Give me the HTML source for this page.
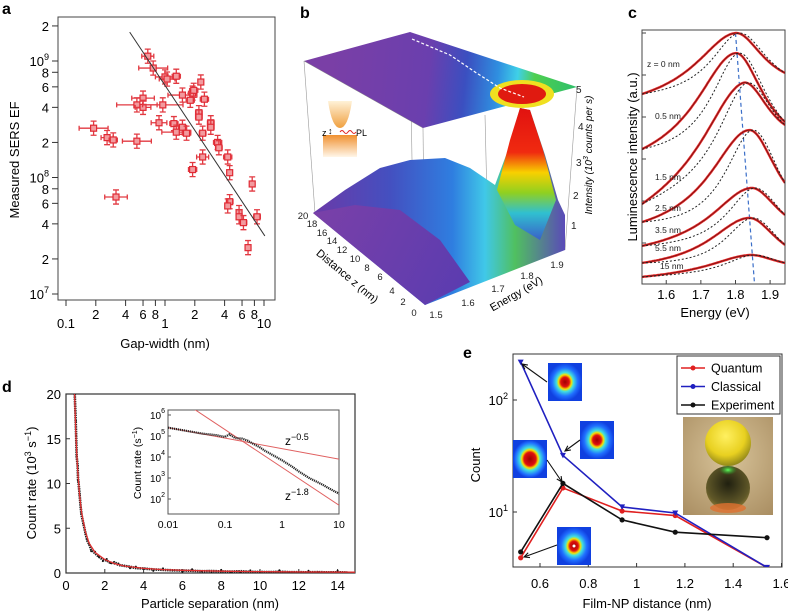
<!DOCTYPE html>
<html><head><meta charset="utf-8">
<style>
html,body{margin:0;padding:0;background:#fff;}
svg{display:block;font-family:"Liberation Sans",sans-serif;}
</style></head>
<body>
<svg id="fig" width="788" height="613" viewBox="0 0 788 613" xmlns="http://www.w3.org/2000/svg">
<defs>
  <linearGradient id="topPlane" gradientUnits="userSpaceOnUse" x1="330" y1="70" x2="575" y2="95">
    <stop offset="0" stop-color="#7a3fa6"/><stop offset="0.4" stop-color="#6a3fae"/>
    <stop offset="0.55" stop-color="#3b4fc0"/><stop offset="0.68" stop-color="#2f8fe0"/>
    <stop offset="0.76" stop-color="#3fd0e8"/><stop offset="0.83" stop-color="#4fcf50"/>
    <stop offset="1" stop-color="#2fbf6a"/>
  </linearGradient>
  <linearGradient id="surf" gradientUnits="userSpaceOnUse" x1="315" y1="0" x2="565" y2="0">
    <stop offset="0" stop-color="#6a3aa8"/><stop offset="0.3" stop-color="#4450c0"/>
    <stop offset="0.55" stop-color="#2f7ee0"/><stop offset="0.68" stop-color="#40c8e8"/>
    <stop offset="0.8" stop-color="#50c060"/><stop offset="1" stop-color="#5a4ab8"/>
  </linearGradient>
  <linearGradient id="peak" gradientUnits="userSpaceOnUse" x1="0" y1="105" x2="0" y2="240">
    <stop offset="0" stop-color="#e01010"/><stop offset="0.35" stop-color="#f02a10"/>
    <stop offset="0.5" stop-color="#f8d000"/><stop offset="0.65" stop-color="#90d020"/>
    <stop offset="0.8" stop-color="#30c0d0"/><stop offset="1" stop-color="#3a60c8"/>
  </linearGradient>
  <linearGradient id="floor" gradientUnits="userSpaceOnUse" x1="315" y1="210" x2="470" y2="290">
    <stop offset="0" stop-color="#7a40a8"/><stop offset="1" stop-color="#5a3cb0"/>
  </linearGradient>
  <linearGradient id="tip" x1="0" y1="0" x2="0" y2="1">
    <stop offset="0" stop-color="#fff2d8"/><stop offset="1" stop-color="#f0a040"/>
  </linearGradient>
  <linearGradient id="film" x1="0" y1="0" x2="0" y2="1">
    <stop offset="0" stop-color="#f09030"/><stop offset="1" stop-color="#fff6e8"/>
  </linearGradient>
  <radialGradient id="heat">
    <stop offset="0" stop-color="#a00000"/><stop offset="0.25" stop-color="#e01010"/>
    <stop offset="0.38" stop-color="#f8e000"/><stop offset="0.5" stop-color="#40e0e0"/>
    <stop offset="0.75" stop-color="#2070ff"/><stop offset="1" stop-color="#1040e0"/>
  </radialGradient>
  <radialGradient id="heatBig">
    <stop offset="0" stop-color="#a00000"/><stop offset="0.35" stop-color="#e01010"/>
    <stop offset="0.48" stop-color="#f8e000"/><stop offset="0.6" stop-color="#40e0e0"/>
    <stop offset="0.85" stop-color="#2070ff"/><stop offset="1" stop-color="#1040e0"/>
  </radialGradient>
  <radialGradient id="photoBg" cx="0.5" cy="0.4" r="0.8">
    <stop offset="0" stop-color="#d8c49a"/><stop offset="1" stop-color="#a88c60"/>
  </radialGradient>
  <radialGradient id="sphere" cx="0.45" cy="0.35" r="0.7">
    <stop offset="0" stop-color="#fff060"/><stop offset="0.6" stop-color="#e8d020"/><stop offset="1" stop-color="#807818"/>
  </radialGradient>
  <radialGradient id="refl" cx="0.5" cy="0.4" r="0.7">
    <stop offset="0" stop-color="#202010"/><stop offset="0.7" stop-color="#605828"/><stop offset="1" stop-color="#a89040"/>
  </radialGradient>
  <radialGradient id="glow"><stop offset="0" stop-color="#60ff60"/><stop offset="1" stop-color="#20a020" stop-opacity="0"/></radialGradient>
  <clipPath id="clipA"><rect x="58" y="17" width="217" height="283"/></clipPath>
  <clipPath id="clipC"><rect x="642" y="30" width="143" height="254"/></clipPath>
  <clipPath id="clipD"><rect x="66" y="394" width="289" height="179"/></clipPath>
  <clipPath id="clipDi"><rect x="168" y="410" width="171" height="104"/></clipPath>
  <clipPath id="clipE"><rect x="513" y="354" width="269" height="213"/></clipPath>
</defs>

<text x="2" y="14" font-size="16" font-weight="bold">a</text>
<text x="300" y="18" font-size="16" font-weight="bold">b</text>
<text x="628" y="18" font-size="16" font-weight="bold">c</text>
<text x="2" y="392" font-size="16" font-weight="bold">d</text>
<text x="463" y="358" font-size="16" font-weight="bold">e</text>

<g id="pb">
  <g stroke="#999" stroke-width="0.6" fill="none">
    <line x1="304" y1="61" x2="315" y2="213"/>
    <line x1="410" y1="32" x2="412" y2="160"/>
    <line x1="423" y1="128" x2="425" y2="305"/>
    <line x1="577" y1="87" x2="565" y2="250"/>
    <line x1="485" y1="115" x2="487" y2="200"/>
  </g>
  <polygon points="313,213 345,190 380,168 410,160 445,158 470,168 495,185 508,150 520,108 530,110 545,155 558,200 565,215 565,250 425,305" fill="url(#surf)"/>
  <polygon points="497,190 510,140 520,108 530,110 543,150 556,200 540,240 515,225" fill="url(#peak)"/>
  <polygon points="313,213 355,205 400,210 440,240 470,282 425,305" fill="url(#floor)"/>
  <polygon points="304,61 410,32 577,87 423,128" fill="url(#topPlane)"/>
  <ellipse cx="522" cy="94" rx="32" ry="14" fill="#f0e020"/>
  <ellipse cx="522" cy="94" rx="24" ry="10" fill="#e01a10"/>
  <path d="M412,39 L450,55 L475,72 L500,88 L524,97" stroke="#fff" stroke-width="1.2" stroke-dasharray="3,2" fill="none"/>
  <line x1="304" y1="61" x2="423" y2="128" stroke="#888" stroke-width="0.5"/>
  <g>
    <path d="M328,101 Q332,128 340,128 Q348,128 352,101 Z" fill="url(#tip)"/>
    <rect x="323" y="135" width="34" height="22" fill="url(#film)"/>
    <text x="322" y="136" font-size="9">z</text>
    <text x="328" y="134" font-size="9">↕</text>
    <path d="M340,132 q2,-3 4,0 t4,0 t4,0 t4,0" stroke="#e02020" fill="none" stroke-width="1"/>
    <text x="356" y="136" font-size="9">PL</text>
  </g>
  <g font-size="10" fill="#222">
    <text x="576" y="93">5</text><text x="578" y="130">4</text><text x="576" y="166">3</text><text x="573" y="199">2</text><text x="571" y="229">1</text>
  </g>
  <text transform="translate(592,155) rotate(-90)" text-anchor="middle" font-size="10" font-style="italic">Intensity (10<tspan dy="-4" font-size="7">3</tspan><tspan dy="4"> counts per s)</tspan></text>
  <g font-size="9.5" fill="#222" text-anchor="middle">
    <text x="303" y="219">20</text><text x="312" y="227">18</text><text x="322" y="236">16</text><text x="332" y="244">14</text><text x="342" y="253">12</text><text x="355" y="262">10</text><text x="367" y="271">8</text><text x="380" y="280">6</text><text x="392" y="294">4</text><text x="403" y="305">2</text><text x="414" y="316">0</text>
  </g>
  <text transform="translate(345,279) rotate(40)" text-anchor="middle" font-size="11">Distance z (nm)</text>
  <g font-size="9.5" fill="#222" text-anchor="middle">
    <text x="436" y="318">1.5</text><text x="468" y="306">1.6</text><text x="498" y="292">1.7</text><text x="527" y="279">1.8</text><text x="557" y="268">1.9</text>
  </g>
  <text transform="translate(518,297) rotate(-30)" text-anchor="middle" font-size="11">Energy (eV)</text>
</g>

<g id="pa"></g>
<g id="pc"></g>
<g id="pd"></g>
<g id="pe"></g>
</svg>

<script>
// ---------- Panel a data ----------
const gapX = [0.67,0.76,1.0,1.05,1.3,2.3,1.5,1.9,1.95,1.8,2.5,0.6,0.52,0.6,0.95,2.2,2.2,2.9,2.9,0.87,1.23,1.5,1.3,1.65,2.4,0.19,0.26,0.3,0.52,3.4,3.5,2.4,4.3,4.5,1.9,7.6,0.32,4.5,4.3,5.6,5.6,6.2,8.5,6.9];
const sersEF = [1.1e9,8.7e8,7.3e8,7e8,7.4e8,6.6e8,5.1e8,5.3e8,5.6e8,4.6e8,4.7e8,4.8e8,4.2e8,4e8,4.2e8,3.6e8,3.3e8,2.95e8,2.7e8,2.95e8,2.9e8,2.7e8,2.45e8,2.4e8,2.4e8,2.65e8,2.2e8,2.1e8,2.05e8,2e8,1.8e8,1.5e8,1.5e8,1.1e8,1.17e8,8.8e7,6.8e7,6.2e7,5.7e7,5e7,4.6e7,4.1e7,4.6e7,2.5e7];
const gapErrFactor = [1.15,1.4,1.25,1.2,1.1,1.05,1.4,1.1,1.1,1.1,1.1,1.3,1.6,1.2,1.6,1.08,1.08,1.08,1.08,1.2,1.1,1.1,1.4,1.1,1.08,1.4,1.15,1.1,1.4,1.1,1.08,1.15,1.1,1.05,1.1,1.05,1.3,1.08,1.05,1.05,1.05,1.08,1.08,1.05];
const efErrFactor = 1.15;
const fitX = [0.44, 10.2];
const fitY = [1.77e9, 3.15e7];
const aYTicks = [1e7,2e7,4e7,6e7,8e7,1e8,2e8,4e8,6e8,8e8,1e9,2e9];
const aYTickLabels = ['10^7','2','4','6','8','10^8','2','4','6','8','10^9','2'];
const aXTicks = [0.1,0.2,0.4,0.6,0.8,1,2,4,6,8,10];
const aXTickLabels = ['0.1','2','4','6','8','1','2','4','6','8','10'];

// ---------- Panel c data ----------
const cLabels = ['z = 0 nm','0.5 nm','1.5 nm','2.5 nm','3.5 nm','5.5 nm','15 nm'];
const cLeft  = [7.48,5.31,3.15,2.44,1.50,0.83,0.28];
const cRight = [8.31,6.38,6.26,3.98,2.72,1.54,0.83];
const cPeak  = [9.88,9.09,7.91,6.06,3.78,2.60,1.14];
const cPeakE = [1.80,1.80,1.82,1.84,1.845,1.84,1.84];
const cXTicks = [1.6,1.7,1.8,1.9];
const cShift = [1.80,1.855];

// ---------- Panel d data ----------
const dSep = [0.45,0.5,0.52,0.55,0.6,0.62,0.65,0.7,0.75,0.8,0.9,1.0,1.1,1.2,1.3,1.5,1.7,1.9,2.1,2.3,2.5,2.7,3.0,3.3,3.6,4.0,4.5,5.0,5.5,6.0,6.5,7,7.5,8,8.5,9,9.5,10,10.5,11,11.5,12,12.5,13,13.5,14,14.5];
const dRate = [20,17,15.5,13,12,10.5,10,8.8,7.5,6.5,5.5,4.5,3.6,3.2,2.6,2.2,1.8,1.5,1.4,1.1,1.2,0.9,0.8,0.7,0.55,0.5,0.4,0.35,0.3,0.28,0.25,0.2,0.22,0.18,0.15,0.2,0.13,0.12,0.1,0.14,0.1,0.09,0.08,0.1,0.07,0.08,0.06];
const dFitSep = [0.42,0.45,0.5,0.55,0.6,0.7,0.8,1,1.2,1.5,2,2.5,3,4,5,6,8,10,12,15];
const dFitRate = [21,19.5,16,13.5,11.5,8.7,6.8,4.6,3.3,2.3,1.5,1.05,0.78,0.52,0.38,0.3,0.2,0.15,0.12,0.09];
const dXTicks = [0,2,4,6,8,10,12,14];
const dYTicks = [0,5,10,15,20];
const inSep = [0.01,0.02,0.04,0.07,0.1,0.12,0.15,0.2,0.25,0.3,0.4,0.5,0.7,1,1.5,2,3,5,7,10];
const inRate = [2.5e5,1.8e5,1.3e5,1.1e5,9e4,1.2e5,8e4,7.5e4,6e4,4.5e4,3e4,2e4,1.2e4,7e3,3.5e3,2e3,1e3,5e2,3e2,1.8e2];
const inExp = [-0.5,-1.8];
const inAmp = [2.5e4, 3.2e3];
const inXTicks = [0.01,0.1,1,10];
const inYTicks = [1e2,1e3,1e4,1e5,1e6];

// ---------- Panel e data ----------
const eDist = [0.52,0.695,0.94,1.16,1.54];
const eQuantum = [3.9,16.4,10.2,9.3,3.2];
const eClassical = [218,32,11.1,9.8,3.2];
const eExperiment = [4.4,18,8.5,6.6,5.9];
const eXTicks = [0.6,0.8,1,1.2,1.4,1.6];
const eXTickLabels = ['0.6','0.8','1','1.2','1.4','1.6'];

const NS='http://www.w3.org/2000/svg';
function el(tag, attrs, parent){const e=document.createElementNS(NS,tag);for(const k in attrs)e.setAttribute(k,attrs[k]);parent.appendChild(e);return e;}
function txt(str, attrs, parent){const e=el('text',attrs,parent);e.textContent=str;return e;}
function powText(base, exp, attrs, parent){
  const t=el('text',attrs,parent);
  const a=document.createElementNS(NS,'tspan');a.textContent=base;t.appendChild(a);
  const b=document.createElementNS(NS,'tspan');b.textContent=exp;b.setAttribute('dy','-6');b.setAttribute('font-size','0.7em');t.appendChild(b);
  return t;
}
const L10=Math.log10;

// ================= Panel a =================
(function(){
  const g=document.getElementById('pa');
  const xa=v=>66+99*(L10(v)+1);
  const ya=v=>61-116.5*(L10(v)-9);
  const box=el('rect',{x:58,y:17,width:217,height:283,fill:'none',stroke:'#444','stroke-width':1},g);
  
  
  aYTicks.forEach((v,i)=>{
    const y=ya(v);
    const tk=el('line',{x1:52,y1:y,x2:58,y2:y,stroke:'#333'},g);
    
    
    const lab=aYTickLabels[i];
    let t;
    if(lab.indexOf('^')>0){const p=lab.split('^');t=powText(p[0],p[1],{x:49,y:y+5,'font-size':13,'text-anchor':'end'},g);}
    else t=txt(lab,{x:49,y:y+5,'font-size':13,'text-anchor':'end'},g);
    
    
  });
  aXTicks.forEach((v,i)=>{
    const x=xa(v);
    const tk=el('line',{x1:x,y1:300,x2:x,y2:306,stroke:'#333'},g);
    
    
    const low=(aXTickLabels[i]==='0.1'||aXTickLabels[i]==='1'||aXTickLabels[i]==='10');
    const t=txt(aXTickLabels[i],{x:x,y:low?328:319,'font-size':13,'text-anchor':'middle'},g);
    
    
  });
  const xt=txt('Gap-width (nm)',{x:165,y:348,'font-size':13,'text-anchor':'middle'},g);
  
  
  const yt=txt('Measured SERS EF',{transform:'translate(19,160) rotate(-90)','font-size':13,'text-anchor':'middle'},g);
  
  
  const pg=el('g',{'clip-path':'url(#clipA)'},g);
  gapX.forEach((xv,i)=>{
    const yv=sersEF[i], f=gapErrFactor[i];
    const x=xa(xv), y=ya(yv);
    const eb=el('path',{d:`M${xa(xv/f)},${y}H${xa(xv*f)}M${xa(xv/f)},${y-2.5}v5M${xa(xv*f)},${y-2.5}v5M${x},${ya(yv*efErrFactor)}V${ya(yv/efErrFactor)}M${x-3},${ya(yv*efErrFactor)}h6M${x-3},${ya(yv/efErrFactor)}h6`,stroke:'#e23a42','stroke-width':1.3,fill:'none'},pg);
    
    
    const m=el('rect',{x:x-3,y:y-3,width:6,height:6,fill:'#f29a9e',stroke:'#e02a34','stroke-width':1.2},pg);
    
    
  });
  const fl=el('line',{x1:xa(fitX[0]),y1:ya(fitY[0]),x2:xa(fitX[1]),y2:ya(fitY[1]),stroke:'#333','stroke-width':1},g);
  
  
})();

// ================= Panel c =================
(function(){
  const g=document.getElementById('pc');
  const xmin=1.53,xmax=1.943;
  const xc=v=>642+(v-xmin)/(xmax-xmin)*143;
  const yc=v=>284-v*25.4;
  const L=(E,E0,gl,gr)=>{const gg=E<E0?gl:gr;return gg*gg/((E-E0)*(E-E0)+gg*gg);};
  function curve(i,E0,gl,gr){
    const yl=cLeft[i],yr=cRight[i],yp=cPeak[i];
    const T=xmax-xmin,t0=E0-xmin;
    const Ll=L(xmin,E0,gl,gr),Lr=L(xmax,E0,gl,gr);
    const A=(yp-yl-t0/T*(yr-yl))/(1-Ll+t0/T*(Ll-Lr));
    const c=yl-A*Ll, s=(yr-yl+A*(Ll-Lr))/T;
    let d='';
    for(let k=0;k<=120;k++){const E=xmin+(xmax-xmin)*k/120;const v=c+s*(E-xmin)+A*L(E,E0,gl,gr);d+=(k?'L':'M')+xc(E).toFixed(1)+','+yc(v).toFixed(1);}
    return d;
  }
  const box=el('rect',{x:642,y:30,width:143,height:254,fill:'none',stroke:'#444'},g);
  
  
  for(let k=0;k<6;k++){const tk=el('line',{x1:642,y1:33+k*42,x2:646,y2:33+k*42,stroke:'#444'},g);
    
    }
  cXTicks.forEach(v=>{
    const tk=el('line',{x1:xc(v),y1:284,x2:xc(v),y2:280,stroke:'#444'},g);
    
    
    const t=txt(v.toFixed(1),{x:xc(v),y:299,'font-size':13,'text-anchor':'middle'},g);
    
    
  });
  const pg=el('g',{'clip-path':'url(#clipC)'},g);
  const sl=el('line',{x1:xc(cShift[0]),y1:33,x2:xc(cShift[1]),y2:284,stroke:'#3a6ec8','stroke-width':1.2,'stroke-dasharray':'4,3'},pg);
  
  
  cLabels.forEach((lab,i)=>{
    const E0=cPeakE[i];
    const r=el('path',{d:curve(i,E0,0.14,0.1),stroke:'#e42828','stroke-width':2.4,fill:'none'},pg);
    
    
    const b=el('path',{d:curve(i,E0,0.14,0.1),stroke:'#5a1010','stroke-width':0.6,fill:'none'},pg);
    
    
    const m=el('path',{d:curve(i,E0+0.012,0.1,0.1),stroke:'#222','stroke-width':1,'stroke-dasharray':'2,2',fill:'none'},pg);
    
    
  });
  const labY=[67,119,180,211,233,251,269];
  cLabels.forEach((lab,i)=>{
    const t=txt(lab,{x:i===0?647:(i===6?660:655),y:labY[i],'font-size':8.5,fill:'#222'},g);
    
    
  });
  const yt=txt('Luminescence intensity (a.u.)',{transform:'translate(637,157) rotate(-90)','font-size':13,'text-anchor':'middle'},g);
  
  
  const xt=txt('Energy (eV)',{x:715,y:317,'font-size':13,'text-anchor':'middle'},g);
  
  
})();

// ================= Panel d =================
(function(){
  const g=document.getElementById('pd');
  const xd=v=>66+v/15*291;
  const yd=v=>573-v/20*179;
  const box=el('rect',{x:66,y:394,width:289,height:179,fill:'none',stroke:'#333','stroke-width':1.2},g);
  
  
  dXTicks.forEach(v=>{
    const tk=el('line',{x1:xd(v),y1:573,x2:xd(v),y2:569,stroke:'#333'},g);
    
    
    const t=txt(String(v),{x:xd(v),y:590,'font-size':13,'text-anchor':'middle'},g);
    
    
  });
  dYTicks.forEach(v=>{
    const tk=el('line',{x1:66,y1:yd(v),x2:70,y2:yd(v),stroke:'#333'},g);
    
    
    const t=txt(String(v),{x:61,y:yd(v)+5,'font-size':13,'text-anchor':'end'},g);
    
    
  });
  const pg=el('g',{'clip-path':'url(#clipD)'},g);
  const dl=el('polyline',{points:dSep.map((s,i)=>xd(s)+','+yd(dRate[i])).join(' '),stroke:'#222','stroke-width':2.6,fill:'none','stroke-dasharray':'1.5,0.8'},pg);
  
  
  dSep.forEach((s,i)=>{
    const c=el('circle',{cx:xd(s),cy:yd(dRate[i])+((i%3)-1)*1.5,r:1,fill:'#111'},pg);
    
    
  });
  const fl=el('polyline',{points:dFitSep.map((s,i)=>xd(s)+','+yd(dFitRate[i])).join(' '),stroke:'#e03030','stroke-width':1.3,fill:'none'},pg);
  
  
  const yt=txt('',{transform:'translate(36,483) rotate(-90)','font-size':13,'text-anchor':'middle'},g);
  yt.innerHTML='Count rate (10<tspan dy="-5" font-size="9">3</tspan><tspan dy="5"> s</tspan><tspan dy="-5" font-size="9">−1</tspan><tspan dy="5">)</tspan>';
  
  
  const xt=txt('Particle separation (nm)',{x:210,y:608,'font-size':13,'text-anchor':'middle'},g);
  
  

  const xi=v=>168+(L10(v)+2)*57;
  const yi=v=>415+(6-L10(v))*21;
  const ib=el('rect',{x:168,y:410,width:171,height:104,fill:'#fff',stroke:'#555'},g);
  
  
  inXTicks.forEach(v=>{
    const t=txt(String(v),{x:xi(v),y:528,'font-size':10.5,'text-anchor':'middle'},g);
    
    
  });
  inYTicks.forEach(v=>{
    const tk=el('line',{x1:168,y1:yi(v),x2:171,y2:yi(v),stroke:'#555'},g);
    
    
    const t=powText('10',String(Math.round(L10(v))),{x:165,y:yi(v)+4,'font-size':10,'text-anchor':'end'},g);
    
    
  });
  const ig=el('g',{'clip-path':'url(#clipDi)'},g);
  inExp.forEach((p,k)=>{
    const a=inAmp[k];
    const ln=el('line',{x1:xi(0.01),y1:yi(a*Math.pow(0.01,p)),x2:xi(10),y2:yi(a*Math.pow(10,p)),stroke:'#e06060','stroke-width':1},ig);
    
    
  });
  const idl=el('polyline',{points:inSep.map((s,i)=>xi(s)+','+yi(inRate[i])).join(' '),stroke:'#222','stroke-width':2.2,fill:'none','stroke-dasharray':'1.2,0.8'},ig);
  
  
  const z1=txt('',{x:285,y:445,'font-size':12},g);
  z1.innerHTML='z<tspan dy="-5" font-size="9">−0.5</tspan>';
  
  
  const z2=txt('',{x:285,y:500,'font-size':12},g);
  z2.innerHTML='z<tspan dy="-5" font-size="9">−1.8</tspan>';
  
  
  const iyt=txt('',{transform:'translate(141,463) rotate(-90)','font-size':10.5,'text-anchor':'middle'},g);
  iyt.innerHTML='Count rate (s<tspan dy="-4" font-size="7">−1</tspan><tspan dy="4">)</tspan>';
  
  
})();

// ================= Panel e =================
(function(){
  const g=document.getElementById('pe');
  const xe=v=>540+(v-0.6)*241.5;
  const ye=v=>400-(L10(v)-2)*112;
  const box=el('rect',{x:513,y:354,width:269,height:213,fill:'none',stroke:'#333'},g);
  
  
  eXTicks.forEach((v,i)=>{
    const tk=el('line',{x1:xe(v),y1:567,x2:xe(v),y2:563,stroke:'#333'},g);
    
    
    const t=txt(eXTickLabels[i],{x:xe(v),y:588,'font-size':13,'text-anchor':'middle'},g);
    
    
  });
  [10,100].forEach(v=>{
    const tk=el('line',{x1:513,y1:ye(v),x2:517,y2:ye(v),stroke:'#333'},g);
    
    
    const t=powText('10',String(Math.round(L10(v))),{x:508,y:ye(v)+5,'font-size':13,'text-anchor':'end'},g);
    
    
  });
  const xt=txt('Film-NP distance (nm)',{x:647,y:608,'font-size':13,'text-anchor':'middle'},g);
  
  
  const yt=txt('Count',{transform:'translate(480,465) rotate(-90)','font-size':13,'text-anchor':'middle'},g);
  
  

  const ph=el('g',{},g);
  
  
  el('rect',{x:683,y:417,width:90,height:98,fill:'url(#photoBg)'},ph);
  el('circle',{cx:728,cy:488,r:22,fill:'url(#refl)'},ph);
  el('ellipse',{cx:728,cy:508,rx:18,ry:5,fill:'#e07030',opacity:0.8},ph);
  el('circle',{cx:728,cy:443,r:23,fill:'url(#sphere)'},ph);
  el('ellipse',{cx:728,cy:470,rx:9,ry:5,fill:'url(#glow)'},ph);

  const hm=[[548,363],[580,421],[513,440],[557,527]];
  hm.forEach((h,i)=>{
    const r=el('rect',{x:h[0],y:h[1],width:34,height:38,fill:i===2?'url(#heatBig)':'url(#heat)'},g);
    
    
  });
  const wd=el('circle',{cx:574,cy:546,r:1.5,fill:'#fff'},g);
  
  

  const pg=el('g',{'clip-path':'url(#clipE)'},g);
  const series=[[eQuantum,'#e02020','circle','quantum'],[eClassical,'#2020c0','tri','classical'],[eExperiment,'#111','circle','experiment']];
  series.forEach(s=>{
    const pl=el('polyline',{points:eDist.map((d,i)=>xe(d)+','+ye(s[0][i])).join(' '),stroke:s[1],'stroke-width':1.6,fill:'none'},pg);
    
    
    eDist.forEach((d,i)=>{
      const x=xe(d),y=ye(s[0][i]);
      let m;
      if(s[2]==='tri') m=el('polygon',{points:`${x-3},${y-2.5} ${x+3},${y-2.5} ${x},${y+3}`,fill:s[1]},pg);
      else m=el('circle',{cx:x,cy:y,r:2.6,fill:s[1]},pg);
      
      
    });
  });
  const arrows=[[547,382,522,364],[580,440,565,451],[547,460,562,482],[557,545,524,557]];
  arrows.forEach(a=>{
    const ang=Math.atan2(a[3]-a[1],a[2]-a[0]);
    const hx=a[2]-6*Math.cos(ang-0.45), hy=a[3]-6*Math.sin(ang-0.45);
    const hx2=a[2]-6*Math.cos(ang+0.45), hy2=a[3]-6*Math.sin(ang+0.45);
    const p=el('path',{d:`M${a[0]},${a[1]}L${a[2]},${a[3]}M${hx},${hy}L${a[2]},${a[3]}L${hx2},${hy2}`,stroke:'#111','stroke-width':1.1,fill:'none'},g);
    
    
  });
  const lg=el('g',{},g);
  
  
  el('rect',{x:677,y:356,width:103,height:58,fill:'#fff',stroke:'#333'},lg);
  series.forEach((s,i)=>{
    const y=368+i*18.5;
    const ln=el('line',{x1:681,y1:y,x2:705,y2:y,stroke:s[1],'stroke-width':1.6},lg);
    
    
    const mk=el('circle',{cx:693,cy:y,r:2.5,fill:s[1]},lg);
    
    
    const t=txt(['Quantum','Classical','Experiment'][i],{x:711,y:y+4.5,'font-size':12.5},lg);
    
    
  });
})();
</script>
</body></html>
